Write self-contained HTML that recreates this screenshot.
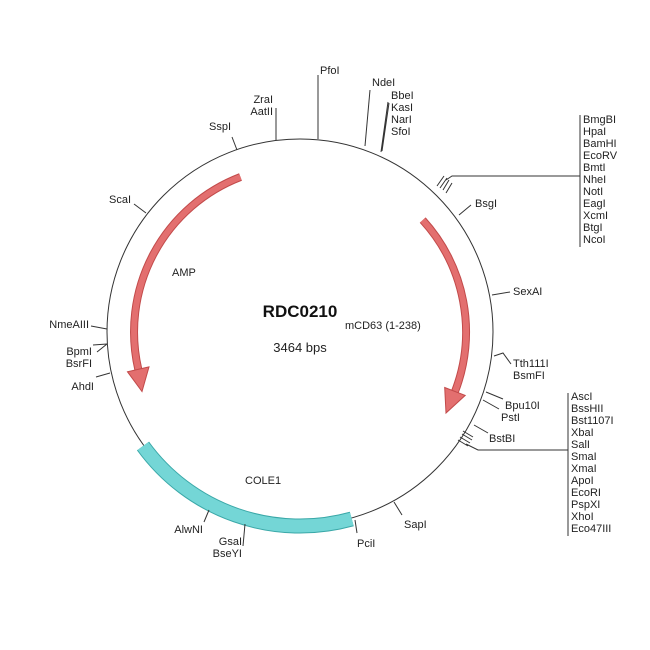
<!DOCTYPE html>
<html><head><style>body{margin:0;background:#fff}svg{display:block}text{font-family:"Liberation Sans",sans-serif;font-size:11px;fill:#222}</style></head><body>
<svg width="650" height="650" viewBox="0 0 650 650">
<circle cx="300" cy="332" r="193" fill="none" stroke="#333" stroke-width="1"/>
<path d="M143 446 A194 194 0 0 0 351.8 519" fill="none" stroke="#3aa8a8" stroke-width="15"/>
<path d="M143 446 A194 194 0 0 0 351.8 519" fill="none" stroke="#74d6d6" stroke-width="13"/>
<path d="M240.5 177 A166 166 0 0 0 138.3 369.3" fill="none" stroke="#c24a4a" stroke-width="8"/>
<path d="M240.5 177 A166 166 0 0 0 138.3 369.3" fill="none" stroke="#e36f6f" stroke-width="6"/>
<polygon points="149,366.9 127.5,371.8 142,391.5" fill="#e36f6f" stroke="#c24a4a" stroke-width="1"/>
<path d="M422.7 220.1 A166 166 0 0 1 455 391.5" fill="none" stroke="#c24a4a" stroke-width="8"/>
<path d="M422.7 220.1 A166 166 0 0 1 455 391.5" fill="none" stroke="#e36f6f" stroke-width="6"/>
<polygon points="444.7,387.5 465.2,395.4 446,413" fill="#e36f6f" stroke="#c24a4a" stroke-width="1"/>
<g stroke="#333" stroke-width="1" fill="none">
<path d="M318 139V75"/>
<path d="M276 140V108"/>
<path d="M237 150L232 137"/>
<path d="M365 146L370 90"/>
<path d="M381 152L388 102M382 151L389 103"/>
<path d="M146 213L134 204"/>
<path d="M446 180L452 176H580M580 115V247"/>
<path d="M437 186l7-10M440 188l7-10M443 190l6-10M446 193l6-10"/>
<path d="M459 215L471 205"/>
<path d="M492 295L510 292"/>
<path d="M494 356L503 353L511 364"/>
<path d="M486 392L503 399M483 400L499 409"/>
<path d="M474 425L488 433"/>
<path d="M458 440l10 6M460 437l10 6M462 434l10 6M463 431l10 6"/>
<path d="M466 444L478 450H568M568 393V536"/>
<path d="M394 502L402 515"/>
<path d="M355 520L357 533"/>
<path d="M245 524L243 546"/>
<path d="M209 510L204 522"/>
<path d="M110 373L96 377"/>
<path d="M107 344L93 345M107 344L97 352"/>
<path d="M107 329L91 326"/>
</g>
<text x="320" y="74">PfoI</text>
<text x="273" y="103" text-anchor="end">ZraI</text>
<text x="273" y="115" text-anchor="end">AatII</text>
<text x="231" y="130" text-anchor="end">SspI</text>
<text x="372" y="86">NdeI</text>
<text x="391" y="99">BbeI</text>
<text x="391" y="111">KasI</text>
<text x="391" y="123">NarI</text>
<text x="391" y="135">SfoI</text>
<text x="131" y="203" text-anchor="end">ScaI</text>
<g>
<text x="583" y="123">BmgBI</text><text x="583" y="135">HpaI</text><text x="583" y="147">BamHI</text><text x="583" y="159">EcoRV</text><text x="583" y="171">BmtI</text><text x="583" y="183">NheI</text><text x="583" y="195">NotI</text><text x="583" y="207">EagI</text><text x="583" y="219">XcmI</text><text x="583" y="231">BtgI</text><text x="583" y="243">NcoI</text>
</g>
<text x="475" y="207">BsgI</text>
<text x="513" y="295">SexAI</text>
<text x="513" y="367">Tth111I</text>
<text x="513" y="379">BsmFI</text>
<text x="505" y="409">Bpu10I</text>
<text x="501" y="421">PstI</text>
<text x="489" y="442">BstBI</text>
<g>
<text x="571" y="400">AscI</text><text x="571" y="412">BssHII</text><text x="571" y="424">Bst1107I</text><text x="571" y="436">XbaI</text><text x="571" y="448">SalI</text><text x="571" y="460">SmaI</text><text x="571" y="472">XmaI</text><text x="571" y="484">ApoI</text><text x="571" y="496">EcoRI</text><text x="571" y="508">PspXI</text><text x="571" y="520">XhoI</text><text x="571" y="532">Eco47III</text>
</g>
<text x="404" y="528">SapI</text>
<text x="357" y="547">PciI</text>
<text x="242" y="545" text-anchor="end">GsaI</text>
<text x="242" y="557" text-anchor="end">BseYI</text>
<text x="203" y="533" text-anchor="end">AlwNI</text>
<text x="94" y="390" text-anchor="end">AhdI</text>
<text x="92" y="355" text-anchor="end">BpmI</text>
<text x="92" y="367" text-anchor="end">BsrFI</text>
<text x="89" y="328" text-anchor="end">NmeAIII</text>
<text x="300" y="317" text-anchor="middle" style="font-size:17px;font-weight:bold;fill:#111">RDC0210</text>
<text x="300" y="352" text-anchor="middle" style="font-size:13px">3464 bps</text>
<text x="172" y="276">AMP</text>
<text x="345" y="329" style="font-size:11px">mCD63 (1-238)</text>
<text x="245" y="484" style="font-size:11px">COLE1</text>
</svg>
</body></html>
